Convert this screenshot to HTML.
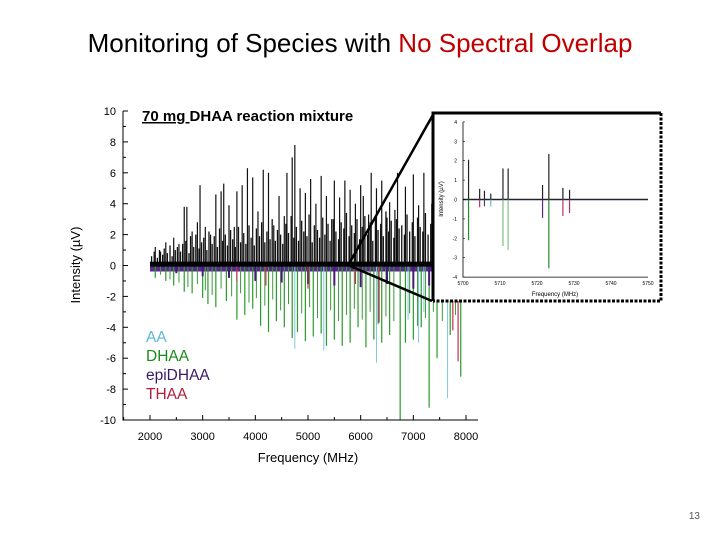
<!DOCTYPE html>
<html><head><meta charset="utf-8"><style>
body{margin:0;width:720px;height:540px;background:#fff;overflow:hidden;font-family:"Liberation Sans",sans-serif}
svg{position:absolute;left:0;top:0}
</style></head><body>
<svg id="s" width="720" height="540">
<text x="360" y="52" text-anchor="middle" font-size="26" fill="#000">Monitoring of Species with <tspan fill="#c00000">No Spectral Overlap</tspan></text>
<text x="700" y="519" text-anchor="end" font-size="10" fill="#555">13</text>
<g id="main"></g>
<g id="inset"></g>
</svg>
<script>
const blackF=[2100,2200,2300,2450,2550,2650,2700,2800,2900,2950,3050,3150,3250,3350,3400,3500,3600,3650,3750,3850,3950,4050,4150,4250,4350,4450,4550,4600,4700,4750,4850,4950,5050,5150,5250,5350,5450,5500,5600,5700,5800,5900,6000,6050,6150,6200,6300,6400,6500,6550,6650,6700,6850,7000,7100,7200,7350,7500];
const blackV=[1.2,0.9,1.5,1.8,1.4,3.8,3.8,2.2,2.8,5.2,2.5,2.0,4.6,4.8,5.3,3.9,2.5,4.8,5.2,6.3,5.7,3.5,6.2,6.0,2.6,4.5,3.2,6.0,7.0,7.8,5.0,4.7,5.6,4.0,5.8,4.5,3.0,5.5,4.4,5.5,4.9,4.0,5.2,4.5,3.3,6.0,5.0,5.5,3.1,4.1,3.6,6.0,5.1,5.9,3.9,6.0,4.0,2.5];
const smallF=[2030,2080,2140,2180,2240,2270,2330,2380,2420,2480,2520,2580,2620,2680,2740,2770,2830,2870,2930,2980,3020,3080,3120,3180,3220,3280,3320,3380,3430,3470,3530,3570,3620,3680,3720,3780,3820,3880,3920,3980,4020,4080,4120,4180,4220,4280,4320,4380,4420,4480,4520,4580,4630,4680,4730,4780,4820,4880,4920,4980,5020,5080,5120,5180,5220,5280,5320,5380,5420,5480,5530,5580,5630,5680,5730,5780,5830,5880,5930,5980,6030,6080,6130,6180,6230,6280,6330,6380,6430,6480,6530,6580,6630,6680,6730,6780,6830,6880,6930,6980,7030,7080,7130,7180,7230,7280,7330,7380,7430,7480,7530,7580,7630,7680,7730,7780,7830,7880];
const smallV=[0.6,0.9,0.5,1.0,0.7,1.1,0.8,1.3,0.6,1.0,1.2,0.9,1.4,1.6,0.8,1.9,1.2,2.0,1.1,1.5,1.8,1.0,2.2,1.4,1.9,1.2,2.4,1.6,2.0,1.3,2.3,1.7,1.2,2.5,1.5,2.1,1.4,2.6,1.8,1.3,2.4,1.9,2.8,1.5,2.2,1.7,3.0,1.6,2.3,2.0,1.4,2.7,2.1,3.2,1.8,2.5,1.6,2.9,2.2,1.9,3.3,1.5,2.6,2.3,1.8,3.1,2.0,2.7,1.6,3.0,2.2,1.7,2.8,2.4,3.4,1.9,2.6,2.1,3.0,1.7,2.5,3.2,2.0,2.8,1.6,3.1,2.3,2.7,1.9,3.5,2.2,2.9,1.8,3.0,2.4,2.6,2.0,3.3,2.2,2.8,1.9,3.1,2.5,2.2,3.4,2.0,2.7,2.3,1.8,2.6,3.0,2.1,1.6,2.4,1.5,1.9,1.2,0.9];
const greenF=[2100,2300,2450,2650,2800,3000,3100,3250,3450,3650,3800,3950,4100,4250,4400,4550,4700,4800,4950,5100,5250,5350,5500,5650,5800,5950,6100,6250,6400,6550,6750,6850,7000,7150,7300,7450,7700,7900];
const greenV=[-0.8,-1.0,-1.3,-1.7,-1.8,-2.1,-2.5,-2.7,-2.3,-3.5,-3.2,-2.8,-3.9,-4.3,-3.6,-4.0,-4.7,-4.3,-4.9,-4.6,-4.4,-5.2,-4.8,-5.2,-5.0,-4.0,-5.3,-4.8,-5.0,-4.5,-10,-5.0,-4.8,-4.0,-9.2,-6.0,-4.5,-7.2];
const gSmallF=[2200,2380,2550,2720,2900,3050,3180,3350,3550,3720,3880,4020,4180,4330,4480,4630,4880,5030,5180,5430,5580,5730,5880,6030,6180,6330,6480,6630,6930,7080,7230,7380,7550,7800];
const gSmallV=[-0.6,-0.9,-1.1,-1.4,-1.2,-1.6,-1.9,-1.5,-2.0,-1.8,-2.4,-2.1,-2.6,-2.2,-2.9,-2.5,-3.1,-2.7,-3.4,-2.9,-3.6,-3.2,-2.8,-3.5,-3.0,-3.8,-3.3,-3.6,-3.1,-3.9,-3.4,-3.0,-3.6,-3.2];
const aaF=[4750,5300,6300,6900,7100,7200,7650];
const aaV=[-5.4,-5.5,-6.3,-3.5,-5.0,-3.0,-8.6];
const thaaF=[3650,4200,5000,5900,6350,7750,7850];
const thaaV=[-1.0,-1.3,-1.5,-1.2,-3.7,-4.2,-6.2];
const epiF=[2500,3000,3500,4000,4500,5000,5500,6000,6500,7000,7300];
const epiV=[-0.5,-0.7,-0.8,-1.0,-1.1,-1.2,-1.3,-1.4,-1.2,-1.5,-1.3];
const yTicks=[10,8,6,4,2,0,-2,-4,-6,-8,-10];
const xTicks=[2000,3000,4000,5000,6000,7000,8000];
const insF=[5701.5,5704.5,5705.8,5707.5,5710.8,5712.2,5721.5,5723.2,5727,5728.8];
const insBlack=[2.05,0.55,0.45,0.3,1.6,1.6,0.75,2.35,0.6,0.5];
const insNeg=[-2.1,-0.4,-0.35,-0.35,-2.4,-2.6,-0.95,-3.55,-0.85,-0.7];
const insCol=["#2a8a2a","#c03060","#404080","#60b8d0","#7cc07c","#88c088","#503070","#2a8a2a","#c03060","#c03060"];
const insY=[4,3,2,1,0,-1,-2,-3,-4];
const insX=[5700,5710,5720,5730,5740,5750];

const NS="http://www.w3.org/2000/svg";
function mk(p,t,a){const e=document.createElementNS(NS,t);for(const k in a)e.setAttribute(k,a[k]);p.appendChild(e);return e;}
const g=document.getElementById('main');
const X=f=>150+(f-2000)*316/6000, Y=v=>265.5-v*15.45;
function peaks(F,V,col,w,name){F.forEach((f,i)=>{const l=mk(g,'line',{x1:X(f),x2:X(f),y1:Y(0),y2:Y(V[i]),stroke:col,'stroke-width':w});

});}
let b=mk(g,'rect',{x:X(2000),y:Y(0),width:X(7950)-X(2000),height:6,fill:'#5a2a8a'});


peaks(aaF,aaV,'#7ec8e0',1,'aa-peak');
peaks(gSmallF,gSmallV,'#3a9a3a',1,'dhaa-small-peak');
peaks(greenF,greenV,'#2a9a2a',1.2,'dhaa-peak');
peaks(epiF,epiV,'#4a1a7a',2,'epidhaa-peak');
peaks(thaaF,thaaV,'#c03050',1.2,'thaa-peak');
peaks(smallF,smallV,'#111',1.3,'mixture-small-peak');
peaks(blackF,blackV,'#111',1.2,'mixture-peak');
b=mk(g,'rect',{x:X(2000),y:Y(0.25),width:X(7950)-X(2000),height:5,fill:'#000'});


let ax=mk(g,'path',{d:`M123 ${Y(10)} V${Y(-10)} H478`,stroke:'#000',fill:'none','stroke-width':1});


for(let v=-10;v<=10;v++){mk(g,'line',{x1:123,x2:v%2?126:128,y1:Y(v),y2:Y(v),stroke:'#000'});}
yTicks.forEach(v=>{const t=mk(g,'text',{x:116,y:Y(v)+4,'text-anchor':'end','font-size':11});t.textContent=v;

});
for(let f=1500;f<=8000;f+=500){mk(g,'line',{x1:X(f),x2:X(f),y1:420,y2:f%1000?417:415,stroke:'#000'});}
xTicks.forEach(f=>{const t=mk(g,'text',{x:X(f),y:440,'text-anchor':'middle','font-size':11});t.textContent=f;

});
let t=mk(g,'text',{x:308,y:462,'text-anchor':'middle','font-size':13});t.textContent='Frequency (MHz)';


t=mk(g,'text',{x:80,y:265,'text-anchor':'middle','font-size':13,transform:'rotate(-90 80 265)'});t.textContent='Intensity (\u00b5V)';


t=mk(g,'text',{x:142,y:121,'font-size':15,'font-weight':'bold'});t.innerHTML='<tspan text-decoration="underline">70 mg </tspan>DHAA reaction mixture';


[['AA','#5ab8d8',342],['DHAA','#1a8a1a',361],['epiDHAA','#3a1a6a',380],['THAA','#b02040',399]].forEach(([n,c,y])=>{const e=mk(g,'text',{x:146,y:y,'font-size':15.5,fill:c});e.textContent=n;

});
mk(g,'line',{x1:350,y1:262,x2:434,y2:113,stroke:'#000','stroke-width':2.5});
mk(g,'line',{x1:350,y1:266,x2:432,y2:301,stroke:'#000','stroke-width':2.5});
const h=document.getElementById('inset');
const IX=f=>463+(f-5700)*185/50, IY=v=>199.5-v*19.4;
let r=mk(h,'rect',{x:433,y:113,width:228,height:188,fill:'#fff'});


mk(h,'path',{d:'M433 301 V113 H661',stroke:'#000','stroke-width':3,fill:'none'});
mk(h,'path',{d:'M661 113 V301 H433',stroke:'#000','stroke-width':3,fill:'none','stroke-dasharray':'3 1.5'});
mk(h,'line',{x1:IX(5700),x2:IX(5750),y1:IY(0),y2:IY(0),stroke:'#223','stroke-width':1.5});
insF.forEach((f,i)=>{let l=mk(h,'line',{x1:IX(f),x2:IX(f),y1:IY(0),y2:IY(insNeg[i]),stroke:insCol[i],'stroke-width':1.2});


l=mk(h,'line',{x1:IX(f),x2:IX(f),y1:IY(0),y2:IY(insBlack[i]),stroke:'#222','stroke-width':1.2});

});
mk(h,'path',{d:`M${IX(5700)} ${IY(4)} V${IY(-4)} H${IX(5750)}`,stroke:'#000',fill:'none','stroke-width':0.8});
insY.forEach(v=>{mk(h,'line',{x1:IX(5700),x2:IX(5700)+2,y1:IY(v),y2:IY(v),stroke:'#000','stroke-width':0.6});
const e=mk(h,'text',{x:457,y:IY(v)+2,'font-size':5,'text-anchor':'end'});e.textContent=v;

});
insX.forEach(f=>{const e=mk(h,'text',{x:IX(f),y:IY(-4)+8,'font-size':5,'text-anchor':'middle'});e.textContent=f;

});
t=mk(h,'text',{x:555,y:296,'font-size':6,'text-anchor':'middle'});t.textContent='Frequency (MHz)';


t=mk(h,'text',{x:443,y:199,'font-size':6,'text-anchor':'middle',transform:'rotate(-90 443 199)'});t.textContent='Intensity (\u00b5V)';


</script>
</body></html>
